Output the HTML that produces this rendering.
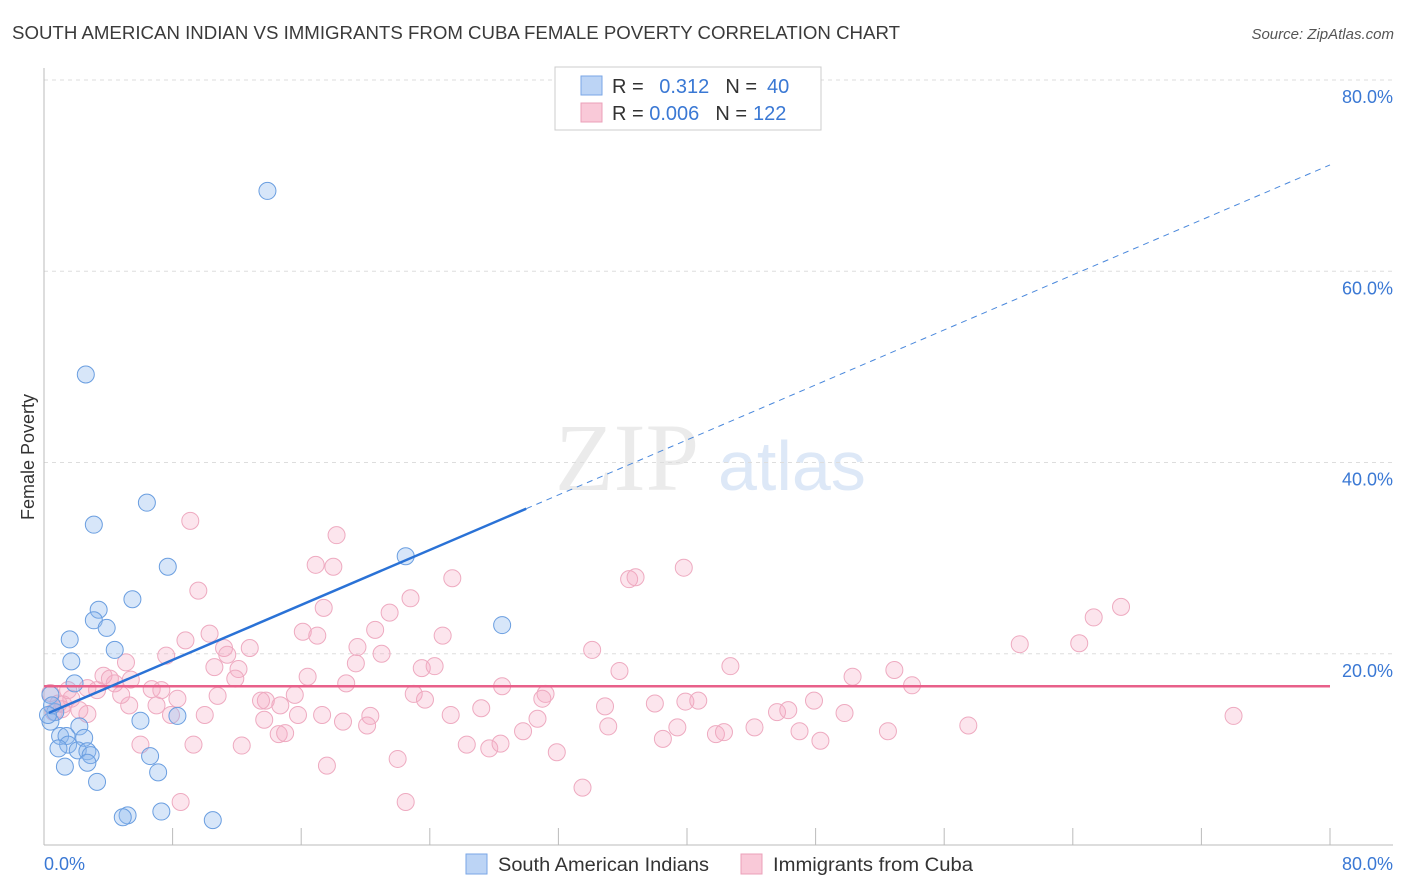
<!DOCTYPE html>
<html><head><meta charset="utf-8"><style>
body{margin:0;background:#fff;font-family:"Liberation Sans",sans-serif}
#wrap{position:relative;width:1406px;height:892px;overflow:hidden}
</style></head><body>
<div id="wrap">
<svg id="svg" width="1406" height="892" xmlns="http://www.w3.org/2000/svg">
<text x="12" y="39" font-size="18" fill="#3a3a3a" textLength="888" lengthAdjust="spacingAndGlyphs">SOUTH AMERICAN INDIAN VS IMMIGRANTS FROM CUBA FEMALE POVERTY CORRELATION CHART</text>
<text x="1394" y="39" font-size="15" fill="#555" font-style="italic" text-anchor="end">Source: ZipAtlas.com</text>
<text x="555" y="490" font-size="96" fill="#ebebeb" font-family="Liberation Serif,serif">ZIP</text>
<text x="718" y="490" font-size="70" fill="#dde8f7">atlas</text>
<text transform="translate(34,457) rotate(-90)" font-size="18" fill="#333" text-anchor="middle">Female Poverty</text>
<g id="grid"></g><g id="axes"></g><g id="pts"></g><g id="lines"></g>
<g>
<rect x="555" y="67" width="266" height="63" fill="#fff" stroke="#ccc"/>
<rect x="581" y="76" width="21" height="19" fill="#bcd4f5" stroke="#7aa6e6"/>
<rect x="581" y="103" width="21" height="19" fill="#f9c9d8" stroke="#eba0b9"/>
<text x="612" y="93" font-size="20" fill="#333">R = <tspan fill="#3a78d4" dx="10">0.312</tspan><tspan fill="#333" dx="16">N =</tspan><tspan fill="#3a78d4" dx="10">40</tspan></text>
<text x="612" y="120" font-size="20" fill="#333">R = <tspan fill="#3a78d4">0.006</tspan><tspan fill="#333" dx="16">N =</tspan><tspan fill="#3a78d4" dx="6">122</tspan></text>
</g>
<g>
<rect x="466" y="854" width="21" height="20" fill="#bcd4f5" stroke="#7aa6e6"/>
<text x="498" y="871" font-size="19" fill="#333" textLength="211" lengthAdjust="spacingAndGlyphs">South American Indians</text>
<rect x="741" y="854" width="21" height="20" fill="#f9c9d8" stroke="#eba0b9"/>
<text x="773" y="871" font-size="19" fill="#333" textLength="200" lengthAdjust="spacingAndGlyphs">Immigrants from Cuba</text>
</g>
</svg>
</div>
<script>
const yTicks=[20,40,60,80];
const yTickLabels=["20.0%","40.0%","60.0%","80.0%"];
const xTickLabels=["0.0%","80.0%"];
const blueX=[13.9,2.6,6.4,3.1,22.5,7.7,5.5,3.4,3.1,3.9,1.6,28.5,4.4,1.7,1.9,0.4,0.7,8.3,6.0,0.4,2.2,1.0,1.4,2.5,1.5,0.9,2.1,2.7,2.9,6.6,2.7,1.3,7.1,3.3,7.3,5.2,4.9,10.5,0.5,0.25];
const blueY=[68.4,49.2,35.8,33.5,30.2,29.1,25.7,24.6,23.5,22.7,21.5,23.0,20.4,19.2,16.9,15.7,13.9,13.5,13.0,12.9,12.4,11.4,11.4,11.2,10.5,10.1,9.9,9.8,9.4,9.3,8.6,8.2,7.6,6.6,3.5,3.1,2.9,2.6,14.6,13.6];
const pinkX=[9.1,18.2,9.6,16.9,18.0,39.8,36.4,36.8,25.4,22.8,17.4,67.0,65.3,21.5,10.3,24.8,20.6,16.1,8.8,17.0,11.2,12.8,19.5,21.0,34.1,60.7,64.4,7.6,5.1,19.4,23.5,24.3,35.8,42.7,52.9,10.6,12.1,11.9,16.4,50.3,54.0,3.7,6.7,18.8,4.4,28.5,31.2,10.8,13.8,15.6,8.3,31.0,39.9,40.7,38.0,47.9,23.0,23.7,5.3,7.0,13.5,34.9,27.2,45.6,46.3,49.8,74.0,15.8,10.0,20.3,13.7,2.7,0.6,0.9,1.7,1.1,57.5,18.6,20.1,30.7,35.1,39.4,44.2,29.8,52.5,14.6,15.0,41.8,42.3,47.0,6.0,9.3,12.3,26.3,27.7,28.4,48.3,38.5,31.9,22.0,17.6,33.5,8.5,22.5,1.2,3.3,4.1,7.3,2.7,4.8,7.9,0.4,1.5,2.2,5.4,11.4,14.7,17.3,25.3];
const pinkY=[33.9,32.4,26.6,29.3,29.1,29.0,27.8,28.0,27.9,25.8,24.8,24.9,23.8,24.3,22.1,21.9,22.5,22.3,21.4,21.9,20.6,20.6,20.7,20.0,20.4,21.0,21.1,19.8,19.1,19.0,18.5,18.7,18.2,18.7,18.3,18.6,18.4,17.4,17.6,17.6,16.7,17.7,16.3,16.9,16.9,16.6,15.8,15.6,15.1,15.7,15.3,15.3,15.0,15.1,14.8,15.1,15.8,15.2,14.6,14.6,15.1,14.5,14.3,13.9,14.1,13.8,13.5,13.6,13.6,13.5,13.1,13.7,13.9,14.8,15.3,14.2,12.5,12.9,12.5,13.2,12.4,12.3,12.3,11.9,11.9,11.6,11.7,11.6,11.8,11.9,10.5,10.5,10.4,10.5,10.1,10.6,10.9,11.1,9.7,9.0,8.3,6.0,4.5,4.5,14.7,16.2,17.4,16.2,16.4,15.7,13.6,15.9,16.2,14.1,17.3,19.9,14.6,13.6,13.6];
const blueFit=[13.6,0.719];
const pinkFit=[16.6,0.0];
const NS="http://www.w3.org/2000/svg";
const X0=44,X1=1330,Y0=845,Y80=80;
const sx=v=>X0+(v/80)*(X1-X0);
const sy=v=>Y0-(v/80)*(Y0-Y80);
function mk(t,a,p){const e=document.createElementNS(NS,t);for(const k in a)e.setAttribute(k,a[k]);p.appendChild(e);return e;}
const grid=document.getElementById('grid'),axes=document.getElementById('axes'),pts=document.getElementById('pts'),lines=document.getElementById('lines');
yTicks.forEach((t,i)=>{
 const l=mk('line',{x1:X0,x2:1393,y1:sy(t),y2:sy(t),stroke:'#ddd','stroke-dasharray':'4,4'},grid);
 
 
 const tx=mk('text',{x:1393,y:sy(t)+23,'font-size':18,fill:'#3a78d4','text-anchor':'end'},axes);
 tx.textContent=yTickLabels[i];
 
 
});
let a=mk('line',{x1:X0,x2:X0,y1:68,y2:Y0,stroke:'#bbb'},axes);


a=mk('line',{x1:X0,x2:1393,y1:Y0,y2:Y0,stroke:'#bbb'},axes);


for(let i=1;i<=10;i++){
 const t=mk('line',{x1:sx(i*8),x2:sx(i*8),y1:Y0,y2:828,stroke:'#bbb'},axes);
 
 
}
[[0,'start',44],[80,'end',1393]].forEach((d,i)=>{
 const t=mk('text',{x:d[2],y:870,'font-size':18,fill:'#3a78d4','text-anchor':d[1]},axes);
 t.textContent=xTickLabels[i];
 
 
});
function drawPts(X,Y,fill,stroke,name){
 X.forEach((x,i)=>{
  const c=mk('circle',{cx:sx(x),cy:sy(Y[i]),r:8.5,fill:fill,stroke:stroke,'stroke-width':1},pts);
  
  
 });
}
drawPts(pinkX,pinkY,'rgba(246,170,195,0.3)','#eeaac0','point-cuba');
drawPts(blueX,blueY,'rgba(140,182,238,0.35)','#6a9ee0','point-south-american-indian');
let ln=mk('line',{x1:sx(0),y1:sy(pinkFit[0]),x2:sx(80),y2:sy(pinkFit[0]+pinkFit[1]*80),stroke:'#e8608a','stroke-width':2.5},lines);


ln=mk('line',{x1:sx(0.3),y1:sy(blueFit[0]+blueFit[1]*0.3),x2:sx(30),y2:sy(blueFit[0]+blueFit[1]*30),stroke:'#2a72d6','stroke-width':2.5},lines);


ln=mk('line',{x1:sx(30),y1:sy(blueFit[0]+blueFit[1]*30),x2:sx(80),y2:sy(blueFit[0]+blueFit[1]*80),stroke:'#4a88dc','stroke-width':1,'stroke-dasharray':'6,5'},lines);


</script>
</body></html>
